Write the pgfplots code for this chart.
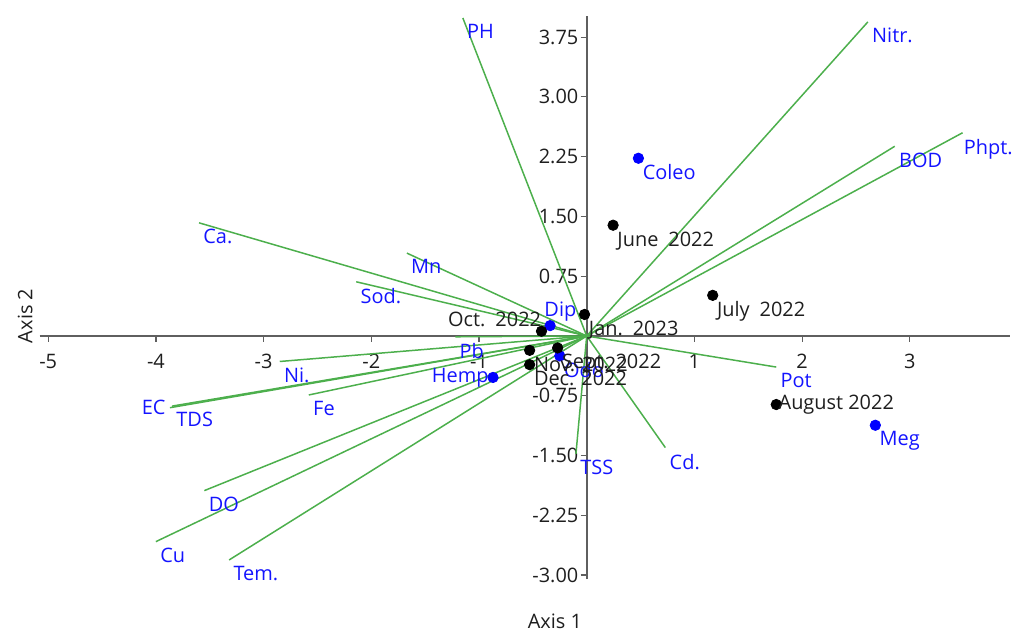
\documentclass[border=0pt]{standalone}
\usepackage{fontspec}
\setmainfont{Open Sans}
\usepackage{pgfplots}
\pgfplotsset{compat=1.18}
\usepackage{pgfplotstable}
\definecolor{vecgreen}{RGB}{76,175,76}
\definecolor{axgray}{RGB}{95,95,95}
\definecolor{txtgray}{RGB}{30,30,30}
\definecolor{lblblue}{RGB}{20,20,255}

% biplot vectors (end points)
\pgfplotstableread[col sep=comma]{
x,y,label
-1.15,3.99,PH
2.61,3.94,Nitr.
2.86,2.38,BOD
-3.60,1.42,Ca.
-1.67,1.04,Mn
-2.14,0.68,Sod.
-1.22,-0.01,Pb
-2.85,-0.32,Ni.
-3.85,-0.88,TDS
-2.58,-0.74,Fe
-3.55,-1.94,DO
-4.00,-2.58,Cu
-3.32,-2.81,Tem.
-0.10,-1.48,TSS
0.73,-1.40,Cd.
1.76,-0.39,Pot
}\vectorsNW
\pgfplotstableread[col sep=comma]{
x,y,label
3.49,2.55,Phpt.
}\vectorsNWb
\pgfplotstableread[col sep=comma]{
x,y,label
-3.87,-0.90,EC
}\vectorsE

% taxa (blue points)
\pgfplotstableread[col sep=comma]{
x,y,label
0.48,2.23,Coleo
-0.25,-0.25,Odo
2.68,-1.12,Meg
}\taxaNW
\pgfplotstableread[col sep=comma]{
x,y,label
-0.34,0.13,Dip
}\taxaSW
\pgfplotstableread[col sep=comma]{
x,y,label
-0.87,-0.52,Hemp
}\taxaE

% months (black points)
\pgfplotstableread[col sep=comma]{
x,y,label
0.245,1.39,June\enspace 2022
1.17,0.51,July\enspace 2022
-0.02,0.27,Jan.\enspace 2023
-0.53,-0.18,Nov. 2022
-0.27,-0.15,Sept. 2022
-0.53,-0.36,Dec. 2022
}\monthsNW
\pgfplotstableread[col sep=comma]{
x,y,label
1.76,-0.86,August 2022
}\monthsW
\pgfplotstableread[col sep=comma]{
x,y,label
-0.42,0.06,Oct.\enspace 2022
}\monthsSE

\begin{document}
\begin{tikzpicture}
\begin{axis}[
  x=53.85bp, y=39.85bp,
  xmin=-5.08, xmax=3.93, ymin=-3.05, ymax=4.02,
  enlargelimits=false,
  axis lines*=middle,
  axis line style={axgray, line width=0.8pt},
  xtick={-5,-4,-3,-2,-1,1,2,3},
  xticklabels={-5,-4,-3,-2,-1,1,2,3},
  ytick={-3,-2.25,-1.5,-0.75,0.75,1.5,2.25,3,3.75},
  yticklabels={-3.00,-2.25,-1.50,-0.75,0.75,1.50,2.25,3.00,3.75},
  tick align=outside,
  major tick length=3bp,
  tick style={axgray, line width=0.6pt},
  ticklabel style={font=\fontsize{10}{12}\selectfont, text=txtgray},
  xticklabel style={inner sep=1pt, yshift=-5bp},
  yticklabel style={inner sep=1pt},
  clip=false,
  xlabel={Axis 1}, ylabel={Axis 2},
  label style={font=\fontsize{10}{12}\selectfont, text=txtgray},
  xlabel style={at={(axis description cs:0.531,-0.075)}, anchor=center},
  ylabel style={at={(axis description cs:-0.015,0.467)}, anchor=center},
  every node near coord/.append style={font=\fontsize{10}{12}\selectfont, inner sep=1pt},
]
\coordinate (bbsw) at (axis description cs:-0.0408,-0.094);
\coordinate (bbne) at (axis description cs:1.0021,1.0277);

% vectors
\addplot[vecgreen, line width=0.75pt, quiver={u=\thisrow{x}, v=\thisrow{y}}]
  table[x expr=0, y expr=0] {\vectorsNW};
\addplot[vecgreen, line width=0.75pt, quiver={u=\thisrow{x}, v=\thisrow{y}}]
  table[x expr=0, y expr=0] {\vectorsNWb};
\addplot[vecgreen, line width=0.75pt, quiver={u=\thisrow{x}, v=\thisrow{y}}]
  table[x expr=0, y expr=0] {\vectorsE};

% vector labels
\addplot[only marks, mark=none, nodes near coords, point meta=explicit symbolic,
  nodes near coords style={text=lblblue, anchor=north west, xshift=1bp, yshift=-2bp}]
  table[x=x, y=y, meta=label] {\vectorsNW};
\addplot[only marks, mark=none, nodes near coords, point meta=explicit symbolic,
  nodes near coords style={text=lblblue, anchor=north west, inner sep=0pt, xshift=0.5bp, yshift=-3bp}]
  table[x=x, y=y, meta=label] {\vectorsNWb};
\addplot[only marks, mark=none, nodes near coords, point meta=explicit symbolic,
  nodes near coords style={text=lblblue, anchor=east, xshift=-1bp}]
  table[x=x, y=y, meta=label] {\vectorsE};

% taxa
\addplot[only marks, mark=*, mark size=2.6bp, color=blue, nodes near coords, point meta=explicit symbolic,
  nodes near coords style={text=lblblue, anchor=north west, xshift=1bp, yshift=-2bp}]
  table[x=x, y=y, meta=label] {\taxaNW};
\addplot[only marks, mark=*, mark size=2.6bp, color=blue, nodes near coords, point meta=explicit symbolic,
  nodes near coords style={text=lblblue, anchor=south west, xshift=-4bp, yshift=1bp}]
  table[x=x, y=y, meta=label] {\taxaSW};
\addplot[only marks, mark=*, mark size=2.6bp, color=blue, nodes near coords, point meta=explicit symbolic,
  nodes near coords style={text=lblblue, anchor=east, xshift=-1bp}]
  table[x=x, y=y, meta=label] {\taxaE};

% months
\addplot[only marks, mark=*, mark size=2.6bp, color=black, nodes near coords, point meta=explicit symbolic,
  nodes near coords style={text=txtgray, anchor=north west, xshift=1bp, yshift=-2bp}]
  table[x=x, y=y, meta=label] {\monthsNW};
\addplot[only marks, mark=*, mark size=2.6bp, color=black, nodes near coords, point meta=explicit symbolic,
  nodes near coords style={text=txtgray, anchor=west, xshift=0bp}]
  table[x=x, y=y, meta=label] {\monthsW};
\addplot[only marks, mark=*, mark size=2.6bp, color=black, nodes near coords, point meta=explicit symbolic,
  nodes near coords style={text=txtgray, anchor=south east, xshift=1bp, yshift=1bp}]
  table[x=x, y=y, meta=label] {\monthsSE};
\end{axis}
\pgfresetboundingbox
\path[use as bounding box] (bbsw) rectangle (bbne);
\end{tikzpicture}
\end{document}
